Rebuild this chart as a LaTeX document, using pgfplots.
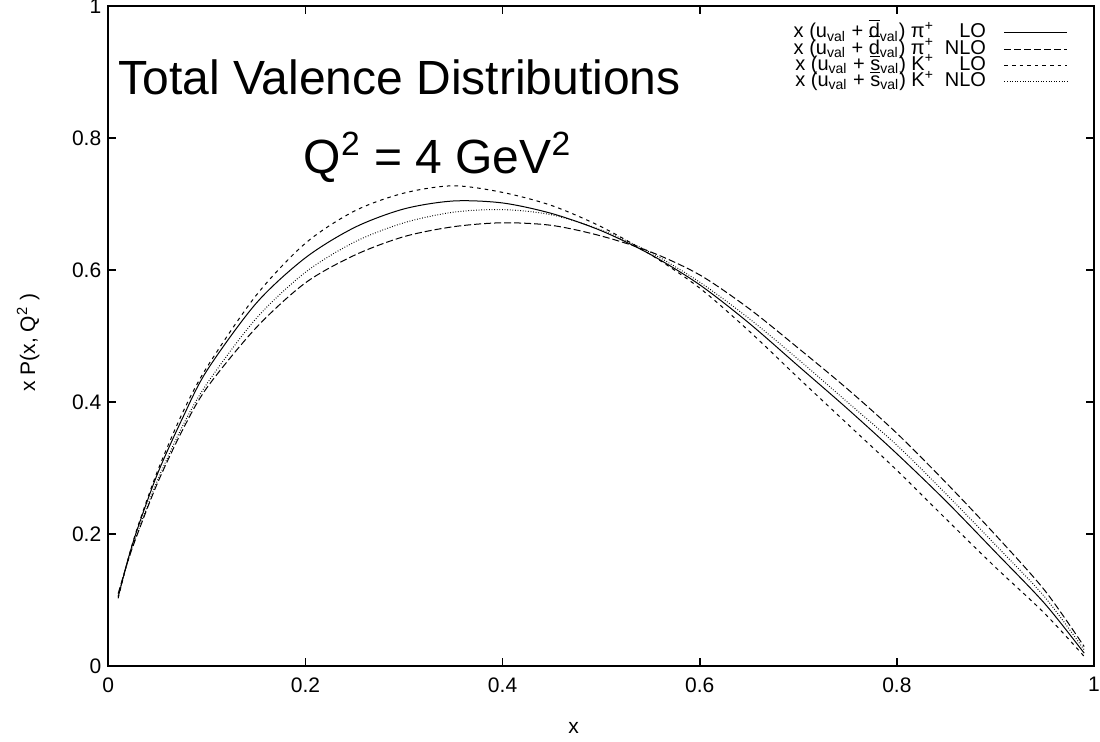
\documentclass[border=0pt]{standalone}
\usepackage{fontspec}
\setmainfont{Liberation Sans}
\usepackage{pgfplots}
\pgfplotsset{compat=1.18}
\usetikzlibrary{calc}

\begin{document}
\begin{tikzpicture}
\begin{axis}[
  scale only axis,
  width=492.85pt, height=330pt,
  xmin=0, xmax=1, ymin=0, ymax=1,
  xtick={0,0.2,0.4,0.6,0.8,1},
  ytick={0,0.2,0.4,0.6,0.8,1},
  tick align=inside,
  major tick length=4pt,
  axis line style={line width=0.8pt},
  every tick/.style={line width=0.8pt, black},
  ticklabel style={font=\fontsize{10.5}{12}\selectfont},
  xticklabel style={yshift=-2pt},
  /pgf/number format/assume math mode=true,
  xlabel={x},
  ylabel={x P(x, Q\textsuperscript{2} )},
  label style={font=\fontsize{10.5}{12}\selectfont},
  xlabel style={at={(axis description cs:0.472,-0.0935)}, anchor=center},
  ylabel style={at={(axis description cs:-0.0812,0.49)}, anchor=center},
  legend plot pos=right,
  legend cell align=right,
  legend image code/.code={\draw[#1, line width=0.5pt] (0pt,0pt) -- (31.5pt,0pt);},
  legend style={draw=none, fill=none, at={(axis cs:0.974,0.968)}, anchor=north east,
    font=\fontsize{10}{10}\selectfont, row sep=3.1pt, inner sep=0pt,
    nodes={text height=5pt, text depth=0pt, inner sep=0pt},
    column sep=9pt},
]
\coordinate (sw) at (rel axis cs:0,0);
\coordinate (ne) at (rel axis cs:1,1);

% pi+ LO
\addplot[black, line width=0.5pt, smooth] coordinates {
(0.01,0.105) (0.02,0.162) (0.03,0.21) (0.05,0.292) (0.075,0.375) (0.1,0.448)
(0.15,0.55) (0.2,0.619) (0.25,0.665) (0.3,0.693) (0.35,0.705) (0.4,0.702)
(0.45,0.686) (0.5,0.66) (0.55,0.624) (0.6,0.578) (0.65,0.52) (0.7,0.455)
(0.75,0.39) (0.8,0.322) (0.85,0.25) (0.9,0.173) (0.95,0.095) (0.99,0.02)};
\addlegendentry{x (u\textsubscript{val} + \(\overline{\mbox{d}}\)\textsubscript{val}) π\textsuperscript{+}\makebox[2.6em][r]{LO}}

% pi+ NLO
\addplot[black, line width=0.5pt, smooth, dash pattern=on 3.5pt off 1.5pt] coordinates {
(0.01,0.11) (0.02,0.16) (0.03,0.202) (0.05,0.278) (0.075,0.357) (0.1,0.422)
(0.15,0.513) (0.2,0.581) (0.25,0.623) (0.3,0.651) (0.35,0.666) (0.4,0.672)
(0.45,0.668) (0.5,0.652) (0.55,0.628) (0.6,0.593) (0.65,0.542) (0.7,0.482)
(0.75,0.42) (0.8,0.353) (0.85,0.278) (0.9,0.199) (0.95,0.115) (0.99,0.03)};
\addlegendentry{x (u\textsubscript{val} + \(\overline{\mbox{d}}\)\textsubscript{val}) π\textsuperscript{+}\makebox[2.6em][r]{NLO}}

% K+ LO
\addplot[black, line width=0.5pt, smooth, dash pattern=on 1.8pt off 2pt] coordinates {
(0.01,0.103) (0.02,0.162) (0.03,0.212) (0.05,0.296) (0.075,0.383) (0.1,0.453)
(0.15,0.562) (0.2,0.641) (0.25,0.69) (0.3,0.717) (0.35,0.728) (0.4,0.718)
(0.45,0.698) (0.5,0.666) (0.55,0.624) (0.6,0.573) (0.65,0.508) (0.7,0.437)
(0.75,0.367) (0.8,0.297) (0.85,0.223) (0.9,0.15) (0.95,0.08) (0.99,0.015)};
\addlegendentry{x (u\textsubscript{val} + \(\overline{\mbox{s}}\)\textsubscript{val}) K\textsuperscript{+}\makebox[2.6em][r]{LO}}

% K+ NLO
\addplot[black, line width=0.5pt, smooth, dash pattern=on 0.4pt off 0.9pt] coordinates {
(0.01,0.107) (0.02,0.16) (0.03,0.204) (0.05,0.282) (0.075,0.363) (0.1,0.428)
(0.15,0.527) (0.2,0.597) (0.25,0.643) (0.3,0.672) (0.35,0.688) (0.4,0.692)
(0.45,0.684) (0.5,0.661) (0.55,0.627) (0.6,0.582) (0.65,0.527) (0.7,0.465)
(0.75,0.4) (0.8,0.335) (0.85,0.261) (0.9,0.184) (0.95,0.105) (0.99,0.025)};
\addlegendentry{x (u\textsubscript{val} + \(\overline{\mbox{s}}\)\textsubscript{val}) K\textsuperscript{+}\makebox[2.6em][r]{NLO}}

\node[anchor=base west, inner sep=0pt, font=\fontsize{24}{28}\selectfont]
  at (axis cs:0.01,0.866) {Total Valence Distributions};
\node[anchor=base, inner sep=0pt, font=\fontsize{24}{28}\selectfont]
  at (axis cs:0.334,0.747) {Q\textsuperscript{2} = 4 GeV\textsuperscript{2}};
\end{axis}
\pgfresetboundingbox
\path ($(sw)+(-54.15pt,-37.85pt)$) rectangle ($(ne)+(3pt,3.15pt)$);
\end{tikzpicture}
\end{document}
